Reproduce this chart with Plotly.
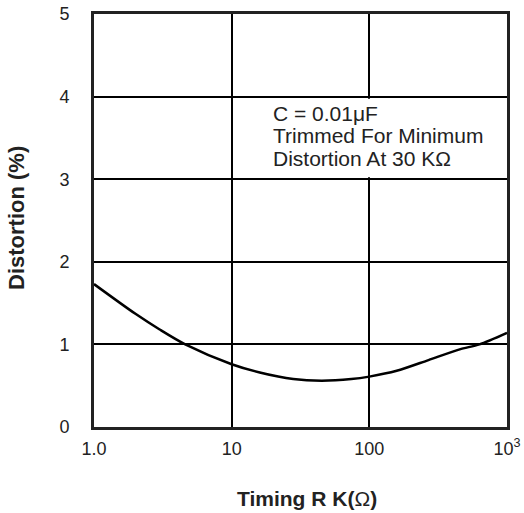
import plotly.graph_objects as go

# Data
timing_r_k = [1, 2, 3, 4.6, 10, 16, 28, 45, 74, 100, 158, 269, 453, 630, 1000]
distortion_pct = [1.73, 1.37, 1.18, 1.0, 0.76, 0.66, 0.58, 0.56, 0.58, 0.61, 0.68, 0.81, 0.94, 1.0, 1.14]

x_tickvals = [1, 10, 100, 1000]
x_ticktext = ["1.0", "10", "100", "10<sup>3</sup>"]
y_tickvals = [0, 1, 2, 3, 4, 5]
y_ticktext = ["0", "1", "2", "3", "4", "5"]

note_lines = ["C = 0.01\u03bcF", "Trimmed For Minimum", "Distortion At 30 K\u03a9"]

FONT = "Liberation Sans, Arial, sans-serif"

fig = go.Figure()
fig.add_trace(go.Scatter(
    x=timing_r_k, y=distortion_pct, mode="lines",
    line=dict(color="black", width=2.5, shape="spline", smoothing=0.8),
    showlegend=False, hoverinfo="skip",
))

fig.update_layout(
    width=524, height=513,
    margin=dict(l=94, r=17, t=14, b=86, autoexpand=False),
    paper_bgcolor="white", plot_bgcolor="white",
    font=dict(family=FONT, color="#222", size=18),
    xaxis=dict(
        type="log", range=[0, 3], automargin=False,
        tickvals=x_tickvals, ticktext=x_ticktext,
        showgrid=True, gridcolor="black", gridwidth=2,
        showline=True, mirror=True, linecolor="#222", linewidth=3,
        ticks="", ticklabelstandoff=3, zeroline=False,
        tickfont=dict(size=18, family=FONT, color="#222"),
    ),
    yaxis=dict(
        range=[0, 5], automargin=False,
        tickvals=y_tickvals, ticktext=y_ticktext,
        showgrid=True, gridcolor="black", gridwidth=2,
        showline=True, mirror=True, linecolor="#222", linewidth=3,
        ticks="", ticklabelstandoff=18, zeroline=False,
        tickfont=dict(size=18, family=FONT, color="#222"),
    ),
)

# hide the vertical gridline behind the note (as in the reference)
fig.add_shape(type="rect", xref="paper", yref="paper",
              x0=0.65, x1=0.685, y0=0.605, y1=0.795,
              fillcolor="white", line=dict(width=0), layer="above")

note_y = [0.760, 0.705, 0.649]
for txt, yy in zip(note_lines, note_y):
    fig.add_annotation(text=txt, xref="paper", yref="paper", x=0.4286, y=yy,
                       xanchor="left", yanchor="middle", showarrow=False,
                       font=dict(size=21, family=FONT, color="#222"))

fig.add_annotation(
    text="<b>Timing R K(</b>\u03a9<b>)</b>",
    xref="paper", yref="paper", x=0.516, y=-0.172, xanchor="center", yanchor="middle",
    showarrow=False, font=dict(size=21, family=FONT, color="#222"))
fig.add_annotation(
    text="<b>Distortion (%)</b>",
    xref="paper", yref="paper", x=-0.189, y=0.506, xanchor="center", yanchor="middle",
    textangle=-90, showarrow=False, font=dict(size=22, family=FONT, color="#222"))

fig.write_html("out.html")
